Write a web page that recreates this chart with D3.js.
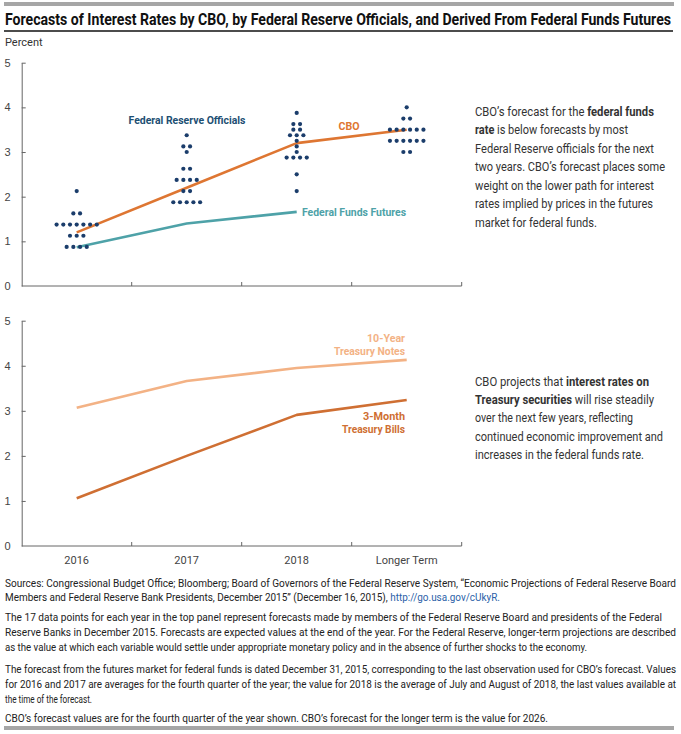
<!DOCTYPE html>
<html>
<head>
<meta charset="utf-8">
<script src="https://cdn.jsdelivr.net/npm/d3@7"></script>
<style>
  body { margin: 0; background: #fff; }
  svg { display: block; font-family: 'Liberation Sans Narrow', Roboto, 'Open Sans', sans-serif; }
  .tick text { font-size: 11px; fill: #444; }
  .domain, .tick line { stroke: #666; }
</style>
</head>
<body>
<div id="chart"></div>
<script>
const categories = ['2016', '2017', '2018', 'Longer Term']

// Fed officials' dots: [rate, number of officials]
const fedDots2016 = [[0.875, 4], [1.125, 3], [1.375, 7], [1.625, 2], [2.125, 1]]
const fedDots2017 = [[1.875, 5], [2.125, 2], [2.375, 4], [2.625, 2], [3.0, 1], [3.125, 2], [3.375, 1]]
const fedDots2018 = [[2.125, 1], [2.5, 1], [2.875, 4], [3.0, 1], [3.125, 1], [3.25, 1], [3.375, 3], [3.5, 2], [3.625, 2], [3.875, 1]]
const fedDotsLonger = [[3.0, 2], [3.25, 6], [3.5, 6], [3.75, 2], [4.0, 1]]

const cboRates = [1.2, 2.2, 3.2, 3.5]
const futuresRates = [0.87, 1.4, 1.66]
const tenYearRates = [3.07, 3.66, 3.95, 4.13]
const threeMonthRates = [1.06, 2.0, 2.91, 3.24]

const yTicks = [0, 1, 2, 3, 4, 5]

const notes = [
  ['Sources: Congressional Budget Office; Bloomberg; Board of Governors of the Federal Reserve System, “Economic Projections of Federal Reserve Board', 583, 676],
  ['Members and Federal Reserve Bank Presidents, December 2015” (December 16, 2015), ', 597, 500, 'http://go.usa.gov/cUkyR.'],
  ['The 17 data points for each year in the top panel represent forecasts made by members of the Federal Reserve Board and presidents of the Federal', 617, 662],
  ['Reserve Banks in December 2015. Forecasts are expected values at the end of the year. For the Federal Reserve, longer-term projections are described', 632, 676],
  ['as the value at which each variable would settle under appropriate monetary policy and in the absence of further shocks to the economy.', 647, 587],
  ['The forecast from the futures market for federal funds is dated December 31, 2015, corresponding to the last observation used for CBO’s forecast. Values', 669, 676],
  ['for 2016 and 2017 are averages for the fourth quarter of the year; the value for 2018 is the average of July and August of 2018, the last values available at', 684, 676],
  ['the time of the forecast.', 699, 92],
  ['CBO’s forecast values are for the fourth quarter of the year shown. CBO’s forecast for the longer term is the value for 2026.', 718, 548]
]

// [text pieces: [string, bold]], center y, right end
const topBlurb = [
  [[['CBO’s forecast for the ', false], ['federal funds', true]], 112, 654],
  [[['rate', true], [' is below forecasts by most', false]], 130, 628],
  [[['Federal Reserve officials for the next', false]], 149, 654],
  [[['two years. CBO’s forecast places some', false]], 167, 665],
  [[['weight on the lower path for interest', false]], 186, 654],
  [[['rates implied by prices in the futures', false]], 204, 653],
  [[['market for federal funds.', false]], 223, 597]
]
const bottomBlurb = [
  [[['CBO projects that ', false], ['interest rates on', true]], 382, 649],
  [[['Treasury securities', true], [' will rise steadily', false]], 400, 654],
  [[['over the next few years, reflecting', false]], 418, 633],
  [[['continued economic improvement and', false]], 437, 663],
  [[['increases in the federal funds rate.', false]], 455, 644]
]

const colors = {
  dots: '#1b3d6b',
  fedLabel: '#1d4f73',
  cbo: '#de7632',
  futures: '#4ea2a8',
  tenYear: '#f3b285',
  threeMonth: '#cf6f33'
}

const width = 681
const height = 734

const svg = d3.select('#chart').append('svg')
  .attr('width', width)
  .attr('height', height)

// top / bottom rules
svg.append('rect').attr('x', 4).attr('y', 2).attr('width', 670).attr('height', 4).attr('fill', '#a6a6a6')
svg.append('rect').attr('x', 4).attr('y', 726).attr('width', 670).attr('height', 4).attr('fill', '#a6a6a6')

svg.append('text')
  .attr('x', 5).attr('y', 25)
  .attr('font-size', 17).attr('font-weight', 'bold').attr('fill', '#111')
  .attr('textLength', 666).attr('lengthAdjust', 'spacingAndGlyphs')
  .text('Forecasts of Interest Rates by CBO, by Federal Reserve Officials, and Derived From Federal Funds Futures')

svg.append('line').attr('x1', 4).attr('x2', 673).attr('y1', 31).attr('y2', 31)
  .attr('stroke', '#111').attr('stroke-width', 1.5)

svg.append('text')
  .attr('x', 5).attr('y', 46)
  .attr('font-size', 11).attr('fill', '#333')
  .text('Percent')

const x = d3.scaleBand()
  .domain(categories)
  .range([21.7, 461.7])
  .padding(0)

const xc = (c) => x(c) + x.bandwidth() / 2

function panel (y0, y5, withLabels) {
  const y = d3.scaleLinear().domain([0, 5]).range([y0, y5])
  const g = svg.append('g')

  g.append('g')
    .attr('transform', `translate(${x.range()[0]},0)`)
    .call(d3.axisLeft(y).tickValues(yTicks).tickFormat(d3.format('d'))
      .tickSizeInner(-4).tickSizeOuter(0).tickPadding(11))
    .call((a) => a.selectAll('.tick').filter((d) => d === 0).select('line').remove())

  const xa = g.append('g')
  xa.append('line')
    .attr('x1', x.range()[0]).attr('x2', x.range()[1])
    .attr('y1', y(0)).attr('y2', y(0))
    .attr('stroke', '#666')
  const bounds = categories.slice(1).map((c) => x(c)).concat([x.range()[1]])
  xa.selectAll('.xtick').data(bounds).enter().append('line')
    .attr('class', 'xtick')
    .attr('x1', (d) => d).attr('x2', (d) => d)
    .attr('y1', y(0)).attr('y2', y(0) - 4)
    .attr('stroke', '#666')

  if (withLabels) {
    xa.selectAll('.xlabel').data(categories).enter().append('text')
      .attr('class', 'xlabel')
      .attr('x', (d) => xc(d))
      .attr('y', y(0) + 18)
      .attr('text-anchor', 'middle')
      .attr('font-size', 11).attr('fill', '#444')
      .text((d) => d)
  }
  return { g, y }
}

function drawLine (g, y, values, color) {
  const line = d3.line()
    .x((d, i) => xc(categories[i]))
    .y((d) => y(d))
  g.append('path')
    .datum(values)
    .attr('d', line)
    .attr('fill', 'none')
    .attr('stroke', color)
    .attr('stroke-width', 2.6)
    .attr('stroke-linejoin', 'round')
}

function label (g, lines, xPos, anchor, color, size) {
  lines.forEach(([t, cy, len]) => {
    g.append('text')
      .attr('x', xPos).attr('y', cy).attr('dy', '0.35em')
      .attr('text-anchor', anchor)
      .attr('font-size', size).attr('font-weight', 'bold')
      .attr('fill', color)
      .attr('textLength', len).attr('lengthAdjust', 'spacingAndGlyphs')
      .text(t)
  })
}

// TOP PANEL
const topPanel = panel(286, 62.7, false)

drawLine(topPanel.g, topPanel.y, futuresRates, colors.futures)
drawLine(topPanel.g, topPanel.y, cboRates, colors.cbo)

const dotSpacing = 6.7
const dotData = d3.merge([fedDots2016, fedDots2017, fedDots2018, fedDotsLonger].map((rows, ci) => {
  return d3.merge(rows.map(([rate, n]) => d3.range(n).map((k) => ({
    cat: categories[ci],
    rate,
    offset: (k - (n - 1) / 2) * dotSpacing
  }))))
}))

topPanel.g.append('g').selectAll('circle').data(dotData).enter().append('circle')
  .attr('cx', (d) => xc(d.cat) + d.offset)
  .attr('cy', (d) => topPanel.y(d.rate))
  .attr('r', 2.1)
  .attr('fill', colors.dots)

label(topPanel.g, [['Federal Reserve Officials', 120, 117]], 187, 'middle', colors.fedLabel, 11.5)
label(topPanel.g, [['CBO', 126, 21]], 349, 'middle', colors.cbo, 11.5)
label(topPanel.g, [['Federal Funds Futures', 212, 104]], 302, 'start', colors.futures, 11.5)

// BOTTOM PANEL
const bottomPanel = panel(546, 320.7, true)

drawLine(bottomPanel.g, bottomPanel.y, tenYearRates, colors.tenYear)
drawLine(bottomPanel.g, bottomPanel.y, threeMonthRates, colors.threeMonth)

label(bottomPanel.g, [['10-Year', 338, 38], ['Treasury Notes', 351, 71]], 405, 'end', colors.tenYear, 11)
label(bottomPanel.g, [['3-Month', 416, 42], ['Treasury Bills', 429, 63]], 405, 'end', colors.threeMonth, 11)

// RIGHT-HAND TEXT
function blurb (lines) {
  lines.forEach(([parts, cy, end]) => {
    const t = svg.append('text')
      .attr('x', 475).attr('y', cy).attr('dy', '0.35em')
      .attr('font-size', 12).attr('fill', '#333')
      .attr('textLength', end - 475).attr('lengthAdjust', 'spacingAndGlyphs')
    parts.forEach(([s, b]) => {
      t.append('tspan').attr('font-weight', b ? 'bold' : 'normal').text(s)
    })
  })
}
blurb(topBlurb)
blurb(bottomBlurb)

// NOTES
notes.forEach(([s, cy, end, link]) => {
  const t = svg.append('text')
    .attr('x', 5).attr('y', cy).attr('dy', '0.35em')
    .attr('font-size', 10.5).attr('fill', '#222')
    .attr('textLength', end - 5).attr('lengthAdjust', 'spacingAndGlyphs')
  t.append('tspan').text(s)
  if (link) t.append('tspan').attr('fill', '#2c5fa8').text(link)
})
</script>
</body>
</html>
